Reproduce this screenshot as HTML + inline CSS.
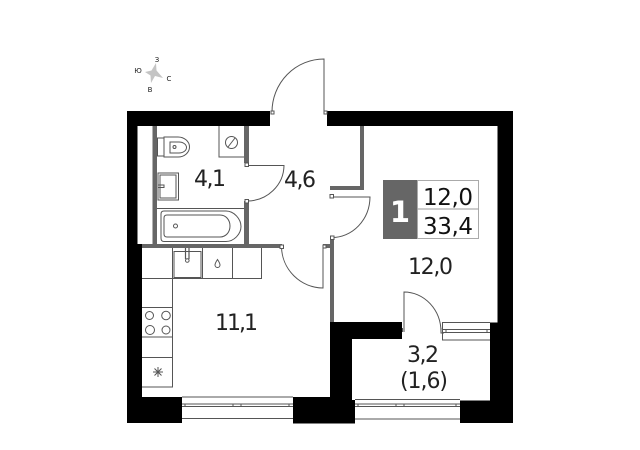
<!DOCTYPE html>
<html><head><meta charset="utf-8"><style>
html,body{margin:0;padding:0;background:#fff}
svg{display:block}
text{font-family:"DejaVu Sans","Liberation Sans",sans-serif;fill:#222}
</style></head><body>
<svg width="640" height="450" viewBox="0 0 640 450" xmlns="http://www.w3.org/2000/svg">
<rect width="640" height="450" fill="#fff"/>
<!-- compass -->
<path d="M156 63 L156.500 70.500 L163 78 L155 76 L151 83 L150.500 75.500 L145 72 L151.500 70.500 Z" fill="#c4c4c4"/>
<g style="font-size:7px" text-anchor="middle">
<text x="157" y="62">З</text><text x="138" y="73">Ю</text><text x="169" y="81">С</text><text x="150" y="92">В</text>
</g>
<!-- black walls -->
<g fill="#000">
<path d="M127 111H270V126H137.500V244H142V397H182V423H127Z"/>
<path d="M327 111H513V423H460V400.500H490V322.500H497.500V126H327Z"/>
<path d="M330 322H402V339H352V400H355V423.500H293V397H330Z"/>
</g>
<!-- gray walls -->
<g fill="#666">
<rect x="152.500" y="126" width="4.500" height="122"/>
<rect x="244" y="126" width="5" height="37"/>
<rect x="244" y="201" width="5" height="47"/>
<rect x="142" y="244" width="140" height="4"/>
<rect x="323" y="244" width="9" height="4"/>
<rect x="330" y="238" width="4" height="84"/>
<rect x="330" y="186" width="34" height="4"/>
<rect x="360" y="126" width="4" height="64"/>
</g>
<g fill="none" stroke="#555" stroke-width="1">
<!-- entry door -->
<path d="M324 112V59A52 53 0 0 0 272 112"/>
<rect x="271" y="111" width="3" height="3" fill="#fff"/><rect x="324" y="111" width="3" height="3" fill="#fff"/>
<!-- bath door -->
<path d="M247 165.500H284A37 36 0 0 1 247 201"/>
<rect x="245" y="163" width="3.500" height="3.500" fill="#fff"/><rect x="245" y="199.500" width="3.500" height="3.500" fill="#fff"/>
<!-- lower hall door -->
<path d="M281.500 247A42 42 0 0 0 323 288V245"/>
<rect x="280" y="245" width="3.500" height="3.500" fill="#fff"/><rect x="323" y="245" width="3" height="3" fill="#fff"/>
<!-- room door -->
<path d="M332 197H370A38 41 0 0 1 332 237.500"/>
<rect x="330" y="194.500" width="3.500" height="3.500" fill="#fff"/><rect x="330.500" y="236" width="3.500" height="3.500" fill="#fff"/>
<!-- balcony door -->
<path d="M404 332V292A37 40 0 0 1 441 332"/>
<path d="M402.500 328V332M441 328V333H444"/>
<!-- toilet -->
<rect x="157.500" y="138" width="6.500" height="18"/>
<path d="M164 137H178A11.500 10 0 0 1 178 157H164Z"/>
<path d="M170 142H179A7.500 5.500 0 0 1 179 153H170Z"/>
<circle cx="174.500" cy="147" r="1.500"/>
<!-- boiler -->
<path d="M219 126V157H244"/>
<circle cx="231.500" cy="142.500" r="6"/>
<path d="M228 147L235 138"/>
<!-- sink -->
<rect x="158" y="173" width="20.500" height="27"/>
<rect x="160" y="175" width="16" height="23"/>
<path d="M158 185H164V187.500H158"/>
<!-- bath -->
<path d="M157 208.500H244"/>
<path d="M164 211H226C234 211 241 219 241 226.500C241 234 234 241.500 226 241.500H164Q161 241.500 161 238V214Q161 211 164 211Z"/>
<path d="M167 215H220C226 215 230 220 230 226C230 232 226 237 220 237H167Q164 237 164 234V218Q164 215 167 215Z"/>
<circle cx="175.500" cy="226" r="2"/>
<!-- kitchen -->
<path d="M142 278.500H261.500V248M172.500 248V387H142"/>
<path d="M202.500 248V278.500M232.500 248V278.500"/>
<path d="M142 307.500H172.500M142 337H172.500M142 357.500H172.500"/>
<rect x="174" y="251.500" width="27" height="26"/>
<path d="M185.500 248V259M189 248V259" stroke-width="1.200"/>
<circle cx="187.300" cy="260.500" r="1.800"/>
<path d="M217.500 259.500C215.500 262.500 215 264 215 265A2.500 2.500 0 0 0 220 265C220 264 219.500 262.500 217.500 259.500Z"/>
<circle cx="149.500" cy="315.500" r="4"/><circle cx="166" cy="315.500" r="4.300"/>
<circle cx="150" cy="330" r="4.500"/><circle cx="166" cy="330" r="4"/>
<path d="M158 367V377M153 372H163M154.500 368.500L161.500 375.500M161.500 368.500L154.500 375.500"/>
<!-- windows -->
<path d="M182 397H293M182 404H293M182 406.500H293M182 418.500H293"/>
<path d="M355 399.500H460M355 404H460M355 406.500H460M355 419H460"/>
<path d="M442 322.500H490M442 329.500H490M442 332.500H490M442 340H490M442.500 322.500V340"/>
<path d="M185 404V406.500M233 404V406.500M241 404V406.500M289 404V406.500M358 404V406.500M396 404V406.500M404 404V406.500M456 404V406.500M446 329.500V332.500M487 329.500V332.500"/>
</g>
<!-- legend -->
<rect x="383" y="180" width="34.500" height="59" fill="#666"/>
<rect x="417.500" y="180.500" width="61" height="58" fill="#fff" stroke="#aaa"/>
<path d="M417.500 209H478.500" stroke="#999"/>
<text x="400" y="222" text-anchor="middle" style="font-size:29px;font-weight:bold;fill:#fff">1</text>
<text x="423" y="205" textLength="50" style="font-size:23px;fill:#111">12,0</text>
<text x="423" y="234" textLength="50" style="font-size:23px;fill:#111">33,4</text>
<!-- labels -->
<g style="font-size:22px">
<text x="194" y="186" textLength="32">4,1</text>
<text x="284" y="187" textLength="32">4,6</text>
<text x="215" y="330" textLength="43">11,1</text>
<text x="408" y="274" textLength="45">12,0</text>
<text x="407" y="362" textLength="32">3,2</text>
<text x="400" y="388" textLength="48">(1,6)</text>
</g>
</svg>
</body></html>
